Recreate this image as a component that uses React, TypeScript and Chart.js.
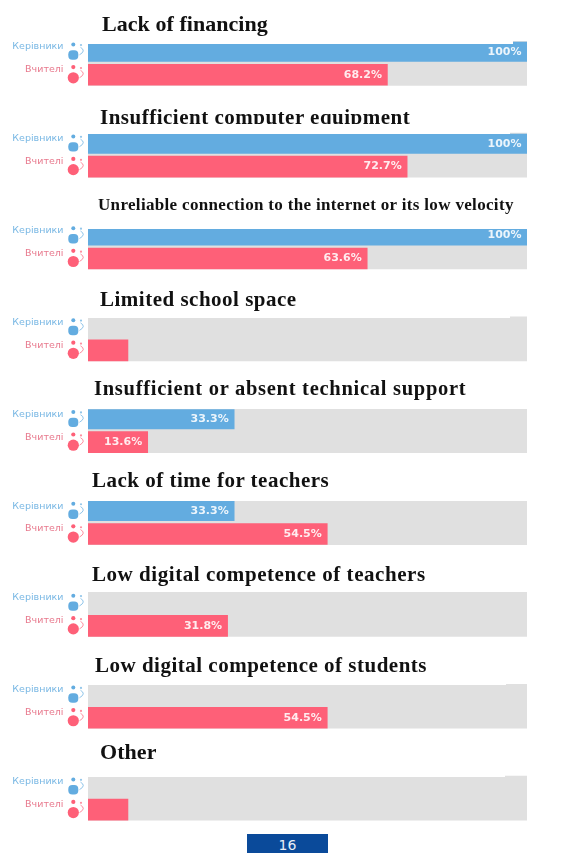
import React, { useEffect, useRef } from "react";
import { Chart, registerables } from "chart.js";

Chart.register(...registerables);

const topics = [
  "Lack of financing",
  "Insufficient computer equipment",
  "Unreliable connection to the internet or its low velocity",
  "Limited school space",
  "Insufficient or absent technical support",
  "Lack of time for teachers",
  "Low digital competence of teachers",
  "Low digital competence of students",
  "Other",
];
const managers: (number | null)[] = [100, 100, 100, null, 33.3, 33.3, null, null, null];
const teachers: number[] = [68.2, 72.7, 63.6, 9.1, 13.6, 54.5, 31.8, 54.5, 9.1];
const managerLabel = "Керівники";
const teacherLabel = "Вчителі";
const trackValue = 100;
const pageNumber = "16";

const BLUE = "#63ace0";
const RED = "#fe6078";
const GREY = "#e0e0e0";
const SLOTS_PER_GROUP = 8;

const titleStyles = [
  { left: 102, cy: 24, size: 22, gap: 0.05 },
  { left: 100, cy: 117, size: 21, gap: 0.5 },
  { left: 98, cy: 205, size: 17, gap: 0.33 },
  { left: 100, cy: 299, size: 21, gap: 0.5 },
  { left: 94, cy: 388, size: 20.5, gap: 0.72 },
  { left: 92, cy: 480, size: 21, gap: 0.5 },
  { left: 92, cy: 574, size: 21, gap: 0.55 },
  { left: 95, cy: 665, size: 21, gap: 0.5 },
  { left: 100, cy: 752, size: 22, gap: 0.05 },
];
// White cover over the top of each track: [top, bottom, right]
const covers = [
  [30, 44, 513],
  [124, 133.5, 510],
  [215, 229, 585],
  [310, 317.5, 510],
  [400, 409.3, 585],
  [490, 500.9, 585],
  [585, 592.4, 505],
  [675, 685, 506],
  [765, 777, 505],
];

const rowLabels: string[] = [];
const managerSeries: (number | null)[] = [];
const teacherSeries: (number | null)[] = [];
const trackSeries: (number | null)[] = [];
topics.forEach((_, g) => {
  const count = g === topics.length - 1 ? SLOTS_PER_GROUP - 3 : SLOTS_PER_GROUP;
  for (let s = 0; s < count; s++) {
    rowLabels.push(s === 1 ? managerLabel : s === 3 ? teacherLabel : "");
    managerSeries.push(s === 1 ? managers[g] : null);
    teacherSeries.push(s === 3 ? teachers[g] : null);
    trackSeries.push(s === 2 ? trackValue : null);
  }
});

const iconsAndLabels = {
  id: "iconsAndLabels",
  afterDatasetsDraw(chart: any) {
    const { ctx } = chart;
    const yScale = chart.scales.y;
    ctx.save();
    rowLabels.forEach((label, i) => {
      if (!label) return;
      const y = yScale.getPixelForValue(i);
      const isManager = label === managerLabel;
      const color = isManager ? BLUE : RED;
      ctx.fillStyle = color;
      ctx.strokeStyle = color;
      const x = 73.3;
      if (isManager) {
        ctx.beginPath();
        ctx.roundRect(x - 5, y - 1.5, 10, 9.4, 4);
        ctx.fill();
        ctx.beginPath();
        ctx.arc(x, y - 7.2, 2, 0, Math.PI * 2);
        ctx.fill();
      } else {
        ctx.beginPath();
        ctx.arc(x, y + 3, 5.6, 0, Math.PI * 2);
        ctx.fill();
        ctx.beginPath();
        ctx.arc(x, y - 7.7, 2.1, 0, Math.PI * 2);
        ctx.fill();
      }
      ctx.globalAlpha = 0.7;
      ctx.beginPath();
      ctx.arc(81, y - 6.8, 1.1, 0, Math.PI * 2);
      ctx.fill();
      ctx.lineWidth = 1;
      ctx.beginPath();
      ctx.moveTo(80.5, y - 4.5);
      ctx.quadraticCurveTo(86.5, y - 1, 79.5, y + 3);
      ctx.stroke();
      ctx.globalAlpha = 1;
    });
    ctx.font = "bold 11px 'DejaVu Sans'";
    ctx.textAlign = "right";
    ctx.textBaseline = "middle";
    ctx.fillStyle = "rgba(255,255,255,0.88)";
    [0, 1].forEach((ds) => {
      const meta = chart.getDatasetMeta(ds);
      const values = chart.data.datasets[ds].data;
      meta.data.forEach((bar: any, i: number) => {
        const v = values[i];
        if (v == null || v < 10) return;
        const text = v === 100 ? "100%" : v.toFixed(1) + "%";
        ctx.fillText(text, bar.x - 5.5, bar.y);
      });
    });
    ctx.restore();
  },
};

export default function App() {
  const ref = useRef<HTMLCanvasElement>(null);
  useEffect(() => {
    const chart = new Chart(ref.current!, {
      type: "bar",
      data: {
        labels: rowLabels,
        datasets: [
          { label: managerLabel, data: managerSeries, backgroundColor: BLUE, barThickness: 19.4 } as any,
          { label: teacherLabel, data: teacherSeries, backgroundColor: RED, barThickness: 21 } as any,
          { label: "track", data: trackSeries, backgroundColor: GREY, barThickness: 44 } as any,
        ],
      },
      options: {
        indexAxis: "y",
        responsive: false,
        animation: false,
        layout: { autoPadding: false, padding: { top: 34.6, bottom: 26.6, left: 0, right: 58 } },
        plugins: { legend: { display: false }, tooltip: { enabled: false } },
        scales: {
          x: { display: false, min: 0, max: 100, stacked: false },
          y: {
            stacked: true,
            border: { display: false },
            grid: { display: false, drawTicks: false },
            afterFit(scale: any) {
              scale.width = 88;
            },
            ticks: {
              autoSkip: false,
              padding: 24.5,
              labelOffset: -5,
              font: { family: "'DejaVu Sans'", size: 9.5 },
              color: (ctx: any) => {
                const l = rowLabels[ctx.index];
                return l === managerLabel ? "#7ab8e4" : "#e8798d";
              },
              callback: (_: any, i: number) => rowLabels[i],
            },
          },
        },
      } as any,
      plugins: [iconsAndLabels],
    });
    return () => chart.destroy();
  }, []);

  return (
    <div style={{ position: "absolute", left: 0, top: 0, width: 585, height: 853, overflow: "hidden", background: "#fff" }}>
      <canvas ref={ref} width={585} height={857} style={{ display: "block", filter: "blur(0.35px)" }} />
      {covers.map((c, i) => (
        <div key={i} style={{ position: "absolute", left: 88, top: c[0], width: c[2] - 88, height: c[1] - c[0], background: "#fff" }} />
      ))}
      {topics.map((t, i) => (
        <div
          key={t}
          style={{
            position: "absolute",
            left: titleStyles[i].left,
            top: titleStyles[i].cy - 14,
            height: i === 1 ? 21 : 28,
            lineHeight: "28px",
            overflow: "hidden",
            whiteSpace: "nowrap",
            fontFamily: "'Liberation Serif', serif",
            fontWeight: "bold",
            fontSize: titleStyles[i].size,
            letterSpacing: titleStyles[i].gap,
            color: "#111",
            filter: "blur(0.3px)",
          }}
        >
          {t}
        </div>
      ))}
      <div
        style={{
          position: "absolute",
          left: 247,
          top: 834,
          width: 81,
          height: 19,
          background: "#0a4a9a",
          color: "#e8eef6",
          fontFamily: "'DejaVu Sans', sans-serif",
          fontSize: 14,
          lineHeight: "22px",
          textAlign: "center",
        }}
      >
        {pageNumber}
      </div>
    </div>
  );
}
